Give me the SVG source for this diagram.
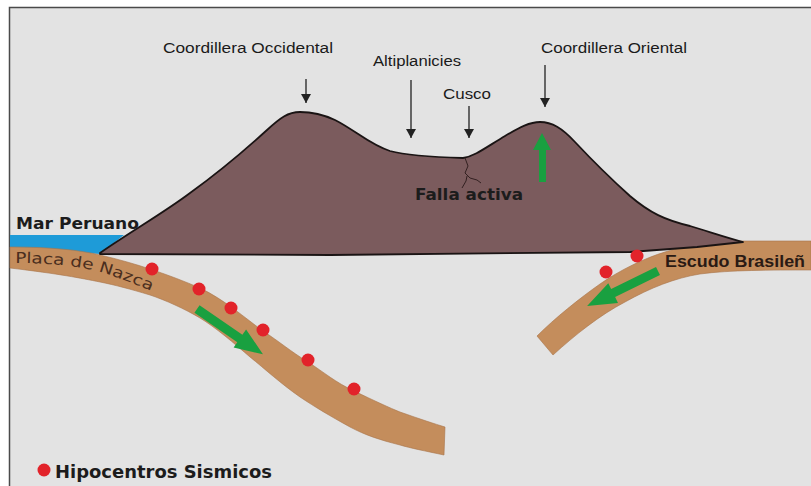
<svg xmlns="http://www.w3.org/2000/svg" width="811" height="486" viewBox="0 0 811 486">
  <defs>
    <style>
      .lbl { font-family: "Liberation Sans", Arial, sans-serif; font-size: 15.5px; fill: #1a1a1a; }
      .big { font-family: "DejaVu Sans", "Liberation Sans", sans-serif; font-weight: bold; fill: #1c1c1c; }
      .plate { fill: #c48d5c; stroke: #a8744a; stroke-width: 0.6; }
      .dot { fill: #e2232a; }
      .green { fill: #19a040; }
      .ptr { stroke: #222; stroke-width: 1.3; fill: none; marker-end: url(#head); }
    </style>
    <marker id="head" markerUnits="userSpaceOnUse" markerWidth="10" markerHeight="10" refX="9" refY="5" orient="auto">
      <path d="M0,0 L9,5 L0,10 Z" fill="#222"/>
    </marker>
  </defs>

  <!-- page and frame -->
  <rect width="811" height="486" fill="#ffffff"/>
  <rect x="10" y="8" width="801" height="478" fill="#e3e3e3"/>
  <path d="M9.5,486 L9.5,7.5 L811,7.5" fill="none" stroke="#4a4a4a" stroke-width="1.5"/>

  <!-- ocean -->
  <g id="mar">
    <polygon points="10,235 124,235 100,254 10,248" fill="#1e9bd8"/>
  </g>

  <!-- Nazca plate -->
  <g id="placa-nazca">
    <path class="plate" d="M10,247 C50,247 80,250 100,255 C135,263 170,275 200,288 C225,300 245,318 263,331 C280,342 290,351 308,362 C325,373 335,382 354,391 C375,401 390,408 400,412 C420,419 435,424 445,427 L444,455 C425,451 410,448 400,445 C380,440 365,435 350,427 C330,416 315,407 300,397 C280,383 265,369 250,357 C235,344 215,327 200,318 C185,309 165,300 150,295 C130,289 115,285 100,282 C80,278 60,274 10,268 Z"/>
    <path id="nazcaText" d="M15,263 C50,263 80,266 100,272 C120,278 140,286 158,294" fill="none"/>
    <text font-family="'DejaVu Sans', 'Liberation Sans', sans-serif" font-size="15" fill="#4a2e1e"><textPath href="#nazcaText" textLength="140" lengthAdjust="spacingAndGlyphs">Placa de Nazca</textPath></text>
  </g>

  <!-- Brazilian shield plate -->
  <g id="escudo-brasileno">
    <path class="plate" d="M811,241 L740,241 C715,241 690,244 665,252 C645,258 620,270 600,284 C580,298 555,318 537,336 L553,355 C575,335 600,315 625,302 C650,288 675,278 700,274 C730,270 770,270 811,270 Z"/>
    <text x="665" y="267" font-family="'Liberation Sans', Arial, sans-serif" font-weight="bold" font-size="16" fill="#2a1a14" textLength="140" lengthAdjust="spacingAndGlyphs">Escudo Brasileñ</text>
  </g>

  <!-- Andes block -->
  <g id="andes">
    <path d="M100,253 C130,232 165,212 190,193 C215,175 245,150 267,130 C280,118 288,112 300,112 C310,112 320,113 335,120 C355,130 370,145 390,151 C405,155 430,157 463,158 C475,156 485,148 505,136 C520,127 530,122 540,122 C552,122 562,128 575,142 C590,158 610,178 630,196 C650,213 665,220 690,226 C710,232 728,238 743,242 L697,247 L630,252 L330,255 L100,254 Z" fill="#7b5b5d" stroke="#1a1414" stroke-width="1.8" stroke-linejoin="round"/>
    <!-- active fault trace -->
    <path d="M465,158 L468,166 L465,173 L470,178 L477,180 L481,183 M467,176 L466,181 L462,188" fill="none" stroke="#2a1a1a" stroke-width="0.9"/>
    <text class="big" x="415" y="200" font-size="16" fill="#2e1f20" textLength="108" lengthAdjust="spacingAndGlyphs">Falla activa</text>
    <!-- uplift arrow -->
    <path class="green" d="M539,182 L539,150 L533,150 L542,133 L551,150 L546,150 L546,182 Z"/>
  </g>

  <!-- sea label -->
  <g id="mar-label">
    <text class="big" x="16" y="229" font-size="16.5" textLength="123" lengthAdjust="spacingAndGlyphs">Mar Peruano</text>
  </g>

  <!-- plate motion arrows -->
  <g id="flechas-movimiento">
    <path class="green" d="M0,-4.5 L52,-4.5 L52,-11 L80,0 L52,11 L52,4.5 L0,4.5 Z" transform="translate(197,309) rotate(34.5)"/>
    <path class="green" d="M0,-4.5 L50,-4.5 L50,-11 L79,0 L50,11 L50,4.5 L0,4.5 Z" transform="translate(658,271) rotate(153.8)"/>
  </g>

  <!-- seismic hypocentres -->
  <g id="hipocentros">
    <circle class="dot" cx="152" cy="269" r="6.5"/>
    <circle class="dot" cx="199" cy="289" r="6.5"/>
    <circle class="dot" cx="231" cy="308" r="6.5"/>
    <circle class="dot" cx="263" cy="330" r="6.5"/>
    <circle class="dot" cx="308" cy="360" r="6.5"/>
    <circle class="dot" cx="354" cy="389" r="6.5"/>
    <circle class="dot" cx="606" cy="272" r="6.5"/>
    <circle class="dot" cx="637" cy="256" r="6.5"/>
  </g>

  <!-- relief labels -->
  <g id="coordillera-occidental">
    <text class="lbl" x="163" y="53" textLength="170" lengthAdjust="spacingAndGlyphs">Coordillera Occidental</text>
  </g>
  <g id="altiplanicies">
    <text class="lbl" x="373" y="66" textLength="88" lengthAdjust="spacingAndGlyphs">Altiplanicies</text>
  </g>
  <g id="cusco">
    <text class="lbl" x="443" y="99" textLength="48" lengthAdjust="spacingAndGlyphs">Cusco</text>
  </g>
  <g id="coordillera-oriental">
    <text class="lbl" x="541" y="53" textLength="146" lengthAdjust="spacingAndGlyphs">Coordillera Oriental</text>
  </g>

  <!-- pointers -->
  <g id="conectores">
    <line class="ptr" x1="306" y1="79" x2="306" y2="103"/>
    <line class="ptr" x1="411" y1="80" x2="411" y2="138"/>
    <line class="ptr" x1="469" y1="106" x2="469" y2="138"/>
    <line class="ptr" x1="545" y1="65" x2="545" y2="107"/>
  </g>

  <!-- legend -->
  <g id="leyenda">
    <circle class="dot" cx="44" cy="470" r="6.5"/>
    <text class="big" x="55" y="478" font-size="18" textLength="217" lengthAdjust="spacingAndGlyphs">Hipocentros Sismicos</text>
  </g>
</svg>
